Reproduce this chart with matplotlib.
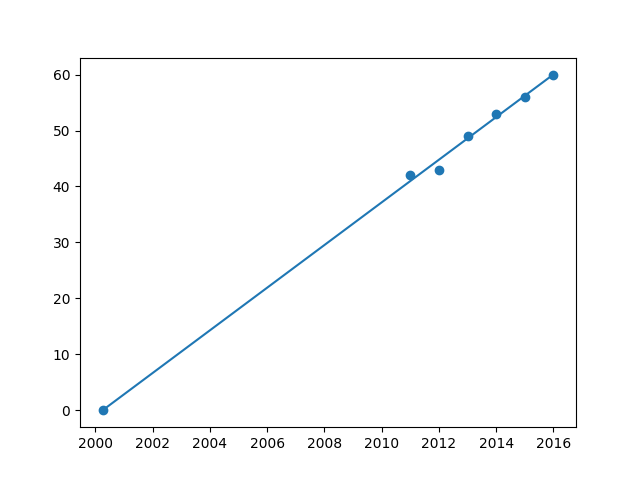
import numpy as np
import matplotlib
matplotlib.use("Agg")
import matplotlib.pyplot as plt

years = [2000.25, 2011, 2012, 2013, 2014, 2015, 2016]
values = [0, 42, 43, 49, 53, 56, 60]

x = np.array(years)
y = np.array(values)
coef = np.polyfit(x, y, 1)
fit = np.poly1d(coef)

plt.figure(figsize=(6.4, 4.8), dpi=100)
plt.scatter(x, y)
plt.plot(x, fit(x))
plt.savefig("out.png")
